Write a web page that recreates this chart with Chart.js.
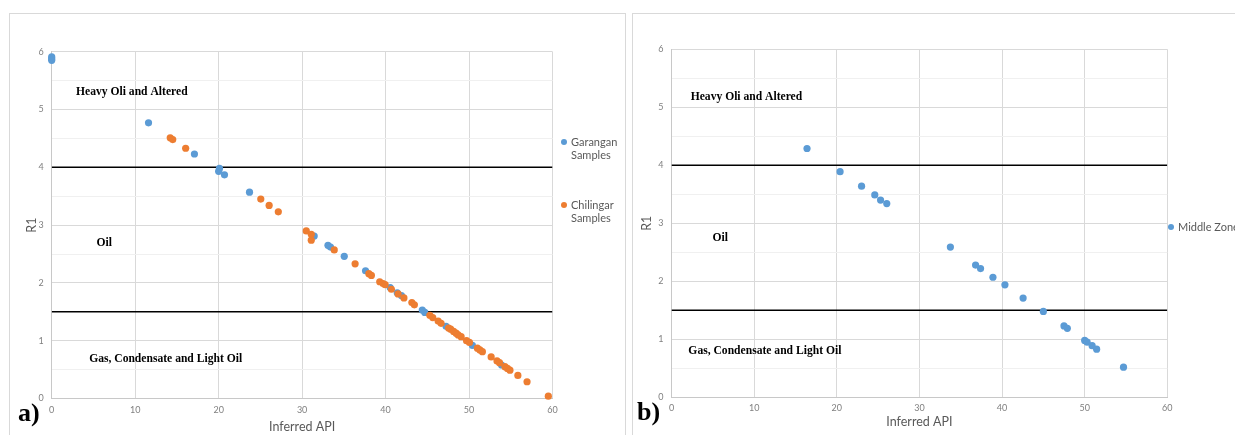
<!DOCTYPE html>
<html>
<head>
  <title>R1 vs Inferred API</title>
  <script src="https://cdn.jsdelivr.net/npm/chart.js"></script>
  <style>
    body { margin: 0; background: #fff; width: 1235px; height: 435px; overflow: hidden; position: relative; font-family: Lato, Arial, sans-serif; }
    .panel { position: absolute; border: 1px solid #d9d9d9; box-sizing: border-box; }
    canvas { position: absolute; }
    .leg { position: absolute; font-size: 11px; line-height: 12.6px; color: #595959; white-space: nowrap; }
    .leg i { position: absolute; left: -10px; top: 3px; width: 6px; height: 6px; border-radius: 50%; }
    .tag { position: absolute; font: bold 26px/26px "Liberation Serif", serif; color: #000; }
  </style>
</head>
<body>
  <div class="panel" style="left:9px; top:13px; width:617px; height:430px;"></div>
  <div class="panel" style="left:632px; top:13px; width:610px; height:430px;"></div>

  <canvas id="chartA" width="616" height="422" style="left:9px; top:13px;"></canvas>
  <canvas id="chartB" width="603" height="422" style="left:632px; top:13px;"></canvas>

  <div class="leg" style="left:571px; top:136px;"><i style="background:#5b9bd5"></i>Garangan<br>Samples</div>
  <div class="leg" style="left:571px; top:199px;"><i style="background:#ed7d31"></i>Chilingar<br>Samples</div>
  <div class="leg" style="left:1178px; top:221px;"><i style="background:#5b9bd5"></i>Middle Zone</div>

  <div class="tag" style="left:18px; top:400px;">a)</div>
  <div class="tag" style="left:637px; top:399px;">b)</div>

  <script>
    // panel a) - Garangan samples
    const garanganApi = [0, 0, 0, 11.6, 17.1, 20.1, 20.0, 20.7, 23.7, 31.45, 33.1, 33.4, 35.05, 37.6, 40.55, 41.4, 41.9, 44.4, 44.7, 47.25, 50.4, 53.9];
    const garanganR1  = [5.91, 5.88, 5.85, 4.77, 4.23, 3.98, 3.93, 3.87, 3.57, 2.81, 2.65, 2.62, 2.46, 2.21, 1.92, 1.83, 1.78, 1.53, 1.49, 1.25, 0.92, 0.58];

    // panel a) - Chilingar samples
    const chilingarApi = [14.2, 14.5, 16.05, 25.05, 26.05, 27.15, 30.5, 31.1, 31.1, 33.85, 36.35, 38.0, 38.3, 39.3, 39.7, 39.95, 40.7, 41.5, 42.2, 43.15, 43.45,
                          45.3, 45.65, 46.3, 46.65, 47.55, 47.8, 48.15, 48.45, 48.7, 49.05, 49.7, 50.05, 51.0, 51.3, 51.6, 52.65, 53.35, 53.65, 54.3, 54.6, 54.9, 55.85, 56.95, 59.5];
    const chilingarR1  = [4.51, 4.48, 4.33, 3.45, 3.34, 3.23, 2.90, 2.84, 2.74, 2.57, 2.33, 2.16, 2.13, 2.02, 1.99, 1.97, 1.89, 1.81, 1.74, 1.66, 1.62,
                          1.44, 1.40, 1.34, 1.30, 1.22, 1.20, 1.16, 1.13, 1.10, 1.07, 1.00, 0.97, 0.87, 0.84, 0.81, 0.72, 0.65, 0.62, 0.55, 0.52, 0.49, 0.40, 0.29, 0.04];

    // panel b) - Middle Zone
    const middleApi = [16.4, 20.4, 23.0, 24.6, 25.3, 26.05, 33.75, 36.8, 37.4, 38.9, 40.35, 42.55, 45.0, 47.5, 47.9, 50.0, 50.3, 50.9, 51.45, 54.7];
    const middleR1  = [4.29, 3.89, 3.64, 3.49, 3.40, 3.34, 2.59, 2.28, 2.22, 2.07, 1.94, 1.71, 1.48, 1.23, 1.19, 0.98, 0.95, 0.89, 0.83, 0.52];

    const thresholds = [4, 1.5];
    const zoneNames = ['Heavy Oli and Altered', 'Oil', 'Gas, Condensate and Light Oil'];
    const xTicks = [0, 10, 20, 30, 40, 50, 60];
    const yTicks = [0, 1, 2, 3, 4, 5, 6];

    const pts = (xs, ys) => xs.map((v, i) => ({ x: v, y: ys[i] }));

    const zoneText = {
      id: 'zoneText',
      afterDatasetsDraw(chart, args, opts) {
        const { ctx, scales: { x, y } } = chart;
        ctx.save();
        ctx.font = 'bold 11.6px "Liberation Serif", serif';
        ctx.fillStyle = '#000';
        ctx.textAlign = 'center';
        ctx.textBaseline = 'middle';
        opts.at.forEach((p, i) => ctx.fillText(zoneNames[i], x.getPixelForValue(p[0]), y.getPixelForValue(p[1])));
        ctx.restore();
      }
    };

    function makeChart(id, series, c) {
      const lines = thresholds.map(t => ({
        data: [{ x: xTicks[0], y: t }, { x: xTicks[xTicks.length - 1], y: t }],
        showLine: true, borderColor: '#000', borderWidth: 1.5, pointRadius: 0, order: 5
      }));
      const dots = series.map((s, i) => ({
        label: s.label, data: s.data, backgroundColor: s.color, borderWidth: 0,
        pointRadius: 3.6, order: series.length - i, clip: false
      }));
      return new Chart(document.getElementById(id), {
        type: 'scatter',
        data: { datasets: [...lines, ...dots] },
        options: {
          responsive: false,
          animation: false,
          layout: { padding: c.pad },
          plugins: { legend: { display: false }, tooltip: { enabled: false }, zoneText: { at: c.zones } },
          scales: {
            x: {
              type: 'linear', min: xTicks[0], max: xTicks[xTicks.length - 1],
              afterBuildTicks: s => { s.ticks = xTicks.map(v => ({ value: v })); },
              ticks: { padding: c.xtp, color: '#808080', font: { family: 'Lato', size: 9 } },
              grid: { color: '#d9d9d9', drawTicks: false },
              border: { color: '#c8c8c8' },
              title: { display: true, text: 'Inferred API', color: '#595959', font: { family: 'Lato', size: 12.5 }, padding: { top: 0, bottom: c.xtitle } },
              afterFit: s => { s.height = c.xh; }
            },
            y: {
              min: 0, max: 6,
              ticks: { stepSize: 0.5, padding: 8, color: '#808080', font: { family: 'Lato', size: 9 },
                       callback: v => yTicks.includes(v) ? v : '' },
              grid: { color: ctx => Number.isInteger(ctx.tick.value) ? '#d9d9d9' : '#f0f0f0', drawTicks: false },
              border: { color: '#c8c8c8' },
              title: { display: true, text: 'R1', color: '#595959', font: { family: 'Lato', size: 12.5 }, padding: { top: c.ytitle, bottom: 0 } },
              afterFit: s => { s.width = c.yw; }
            }
          }
        },
        plugins: [zoneText]
      });
    }

    makeChart('chartA', [
      { label: 'Garangan Samples', data: pts(garanganApi, garanganR1), color: '#5b9bd5' },
      { label: 'Chilingar Samples', data: pts(chilingarApi, chilingarR1), color: '#ed7d31' }
    ], { pad: { left: 0, top: 38.7, right: 72.5, bottom: 0 }, yw: 42.7, xh: 36.5, xtp: 6, xtitle: 1, ytitle: 15,
         zones: [[9.6, 5.30], [6.3, 2.69], [13.65, 0.68]] });

    makeChart('chartB', [
      { label: 'Middle Zone', data: pts(middleApi, middleR1), color: '#5b9bd5' }
    ], { pad: { left: 0, top: 36.3, right: 67.7, bottom: 0 }, yw: 39.5, xh: 37.7, xtp: 5, xtitle: 5.5, ytitle: 7.5,
         zones: [[9.07, 5.17], [5.9, 2.74], [11.3, 0.80]] });
  </script>
</body>
</html>
